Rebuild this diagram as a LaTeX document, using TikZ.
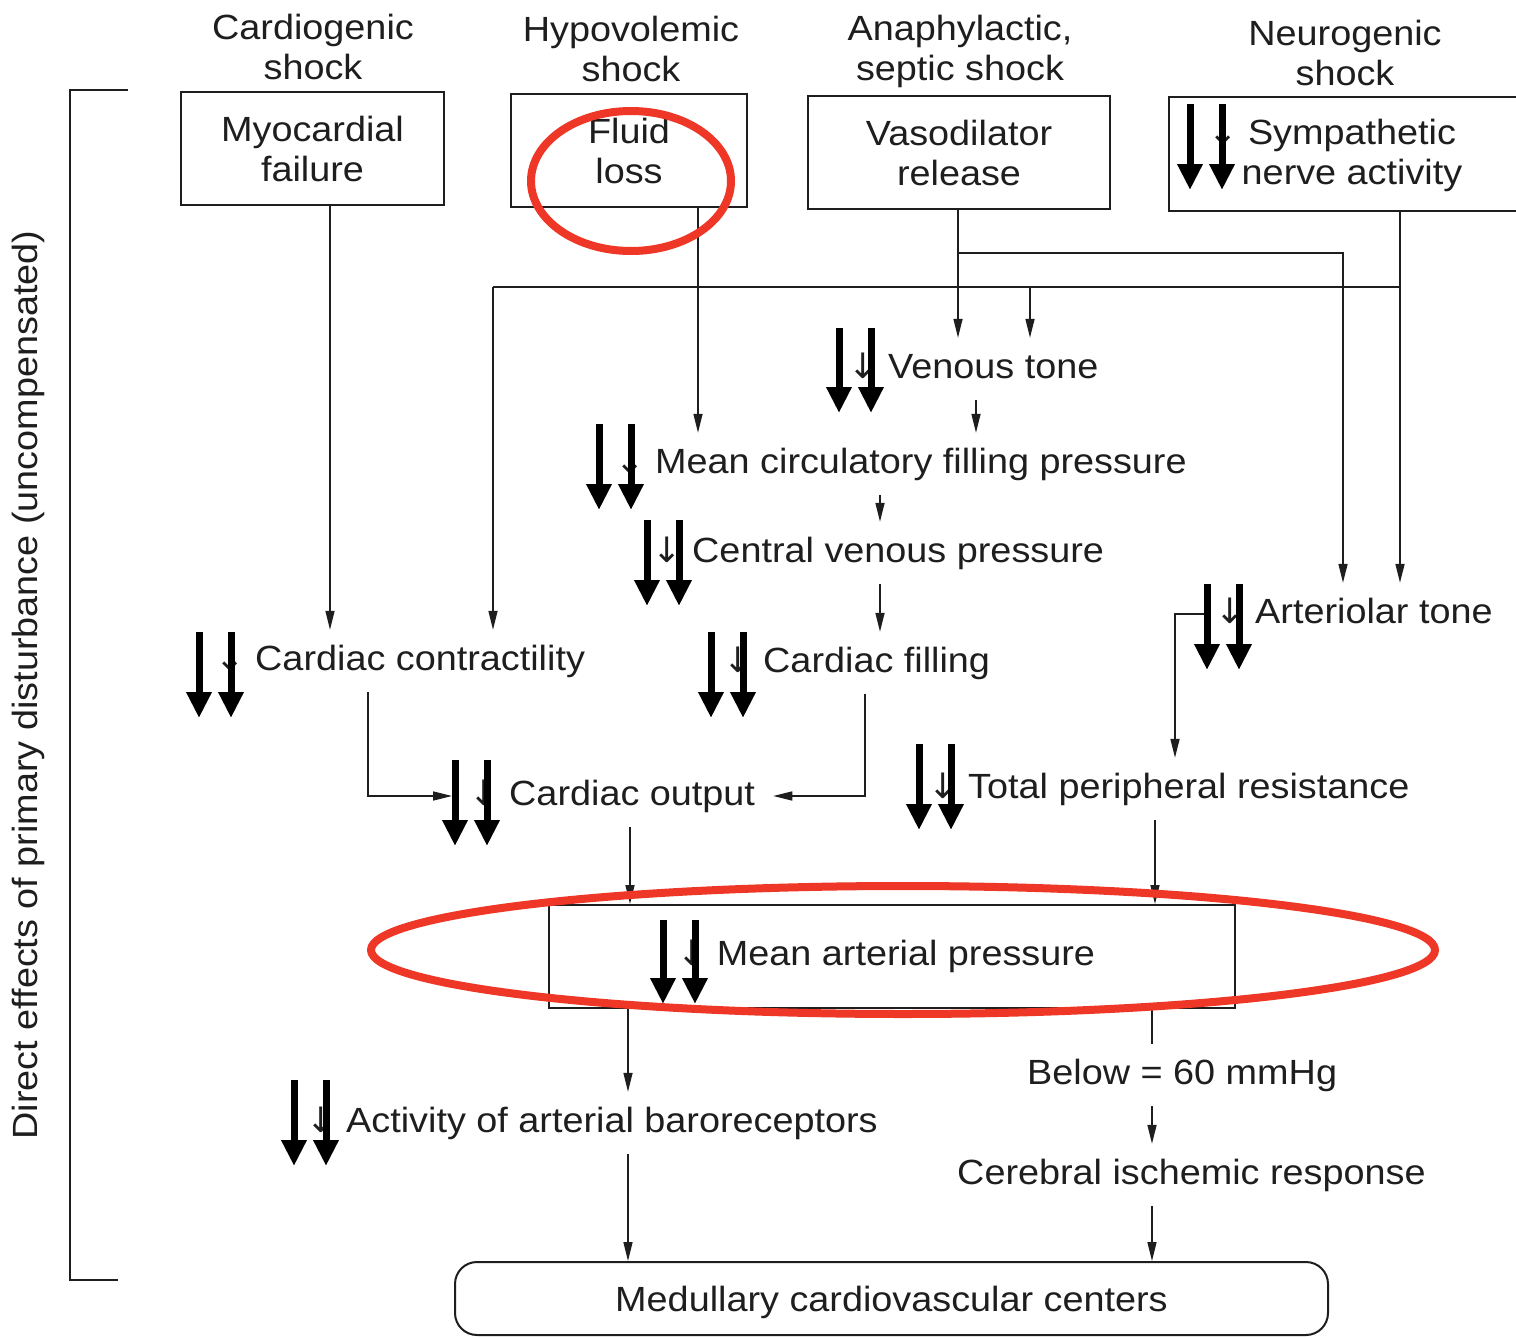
\documentclass[tikz,border=0pt]{standalone}
\usepackage{fontspec}
\setmainfont{Liberation Sans}[FakeStretch=1.08]
\newfontfamily\arrowfont{DejaVu Sans}
\usetikzlibrary{arrows.meta,calc,shapes.geometric}
\definecolor{annred}{RGB}{238,55,38}
\definecolor{ink}{RGB}{30,30,30}
\newcommand\sdn{{\arrowfont ↓}\ }
\tikzset{
  every node/.style={font=\fontsize{35}{40}\selectfont, text=ink},
  lbl/.style={anchor=base west, inner xsep=0pt, inner ysep=14pt, text height=26pt, text depth=8pt},
  cause/.style={draw=ink, line width=2pt, align=center, inner sep=0pt},
  head/.style={align=center, inner sep=0pt},
  conn/.style={draw=ink, line width=1.6pt},
  arr/.style={conn, -{Triangle[length=19pt,width=9pt]}},
  bigarr/.style={draw=black, line width=7pt, -{Triangle[length=26pt,width=24pt]}},
  redring/.style={draw=annred, line width=8pt}
}
\newcommand\pairdown[3]{%
  \draw[bigarr] (#1,#2) -- (#1,#3);
  \draw[bigarr] ({#1+32},#2) -- ({#1+32},#3);}
\begin{document}
\begin{tikzpicture}[x=1pt,y=-1pt]
\useasboundingbox (0,0) rectangle (1516,1338);
\fill[white] (0,0) rectangle (1516,1338);

% headings
\node[head] (hcard) at (313,47) {Cardiogenic\\shock};
\node[head] (hhypo) at (631,49) {Hypovolemic\\shock};
\node[head] (hana)  at (960,51) {Anaphylactic,\\septic shock};
\node[head] (hneuro) at (1345,53) {Neurogenic\\shock};

% cause boxes
\node[cause, minimum width=263pt, minimum height=113pt] (myo) at (312.5,148.5) {Myocardial\\failure};
\node[cause, minimum width=236pt, minimum height=113pt] (fluid) at (629,150.5) {Fluid\\loss};
\node[cause, minimum width=302pt, minimum height=113pt] (vaso) at (959,152.5) {Vasodilator\\release};
\node[cause, minimum width=372pt, minimum height=114pt, anchor=west] (symp) at (1168,154) {};
\node[head] (symptext) at (1352,155) {\llap{\sdn}Sympathetic\\nerve activity};

% bracket and side label
\draw[conn, line width=2pt] (128,90) -- (70,90) -- (70,1280) -- (118,1280);
\node[rotate=90] (side) at (28,685) {Direct effects of primary disturbance (uncompensated)};

% effect labels
\node[lbl] (venous) at (888,378) {\llap{\sdn}Venous tone};
\node[lbl] (mcfp) at (655,473) {\llap{\sdn}Mean circulatory filling pressure};
\node[lbl] (cvp) at (692,562) {\llap{\sdn}Central venous pressure};
\node[lbl] (contr) at (255,670) {\llap{\sdn}Cardiac contractility};
\node[lbl] (fill) at (763,672) {\llap{\sdn}Cardiac filling};
\node[lbl] (art) at (1255,623) {\llap{\sdn}Arteriolar tone};
\node[lbl] (co) at (509,805) {\llap{\sdn}Cardiac output};
\node[lbl] (tpr) at (968,798) {\llap{\sdn}Total peripheral resistance};
\node[draw=ink, line width=2pt, minimum width=686pt, minimum height=103pt, inner sep=0pt] (map) at (892,956.5) {\hspace*{28pt}\llap{\sdn}Mean arterial pressure};
\node[lbl] (baro) at (346,1132) {\llap{\sdn}Activity of arterial baroreceptors};
\node[lbl] (below) at (1027,1084) {Below = 60 mmHg};
\node[lbl] (cereb) at (957,1184) {Cerebral ischemic response};
\node[draw=ink, line width=2pt, rounded corners=22pt, minimum width=873pt, minimum height=73pt, inner sep=0pt] (med) at (891.5,1298.5) {};
\node (medtext) at (891.5,1302) {Medullary cardiovascular centers};

% column coordinates
\coordinate (xMyo) at (330,0);
\coordinate (xFl) at (698,0);
\coordinate (xV) at (976,0);
\coordinate (xC) at (880,0);
\coordinate (xF) at (865,0);
\coordinate (xK) at (368,0);
\coordinate (xO) at (630,0);
\coordinate (xA) at (1175,0);
\coordinate (xT) at (1155,0);
\coordinate (xB) at (628,0);
\coordinate (xR) at (1152,0);
\coordinate (hS) at (1400,287);
\coordinate (hL) at (493,287);
\coordinate (hV) at (1030,287);
\coordinate (vB) at (958,253);
\coordinate (vR) at (1343,253);

% connectors
\draw[arr] (myo.south -| xMyo) -- (contr.north -| xMyo);
\draw[arr] (fluid.south -| xFl) -- (mcfp.north -| xFl);
\draw[arr] (symp.south -| hS) -- (art.north -| hS);
\draw[conn] (hS) -- (hL);
\draw[arr] (hL) -- (contr.north -| hL);
\draw[arr] (hV) -- (venous.north -| hV);
\draw[arr] (vaso.south -| vB) -- (venous.north -| vB);
\draw[arr] (vB) -- (vR) -- (art.north -| vR);
\draw[arr] (venous.south -| xV) -- (mcfp.north -| xV);
\draw[arr] (mcfp.south -| xC) -- (cvp.north -| xC);
\draw[arr] (cvp.south -| xC) -- (fill.north -| xC);
\draw[arr, shorten >=18pt] (fill.south -| xF) |- (co.east);
\draw[arr, shorten >=57pt] (contr.south -| xK) |- (co.west);
\draw[arr] (co.south -| xO) -- (map.north -| xO);
\draw[arr] ([xshift=-50pt]art.west) -| (tpr.north -| xA);
\draw[arr] (tpr.south -| xT) -- (map.north -| xT);
\draw[arr] (map.south -| xB) -- (baro.north -| xB);
\draw[arr] (baro.south -| xB) -- (med.north -| xB);
\draw[conn] (map.south -| xR) -- (below.north -| xR);
\draw[arr] (below.south -| xR) -- (cereb.north -| xR);
\draw[arr] (cereb.south -| xR) -- (med.north -| xR);

% annotations
\draw[redring] (631,181) ellipse [x radius=100, y radius=70];
\draw[redring] (903,950) ellipse [x radius=532, y radius=64];
\pairdown{1190}{104}{190}
\pairdown{839}{328}{413}
\pairdown{599}{424}{510}
\pairdown{647}{520}{606}
\pairdown{199}{632}{718}
\pairdown{711}{632}{718}
\pairdown{1207}{584}{670}
\pairdown{455}{760}{846}
\pairdown{919}{744}{830}
\pairdown{663}{920}{1004}
\pairdown{294}{1080}{1166}
\end{tikzpicture}
\end{document}
